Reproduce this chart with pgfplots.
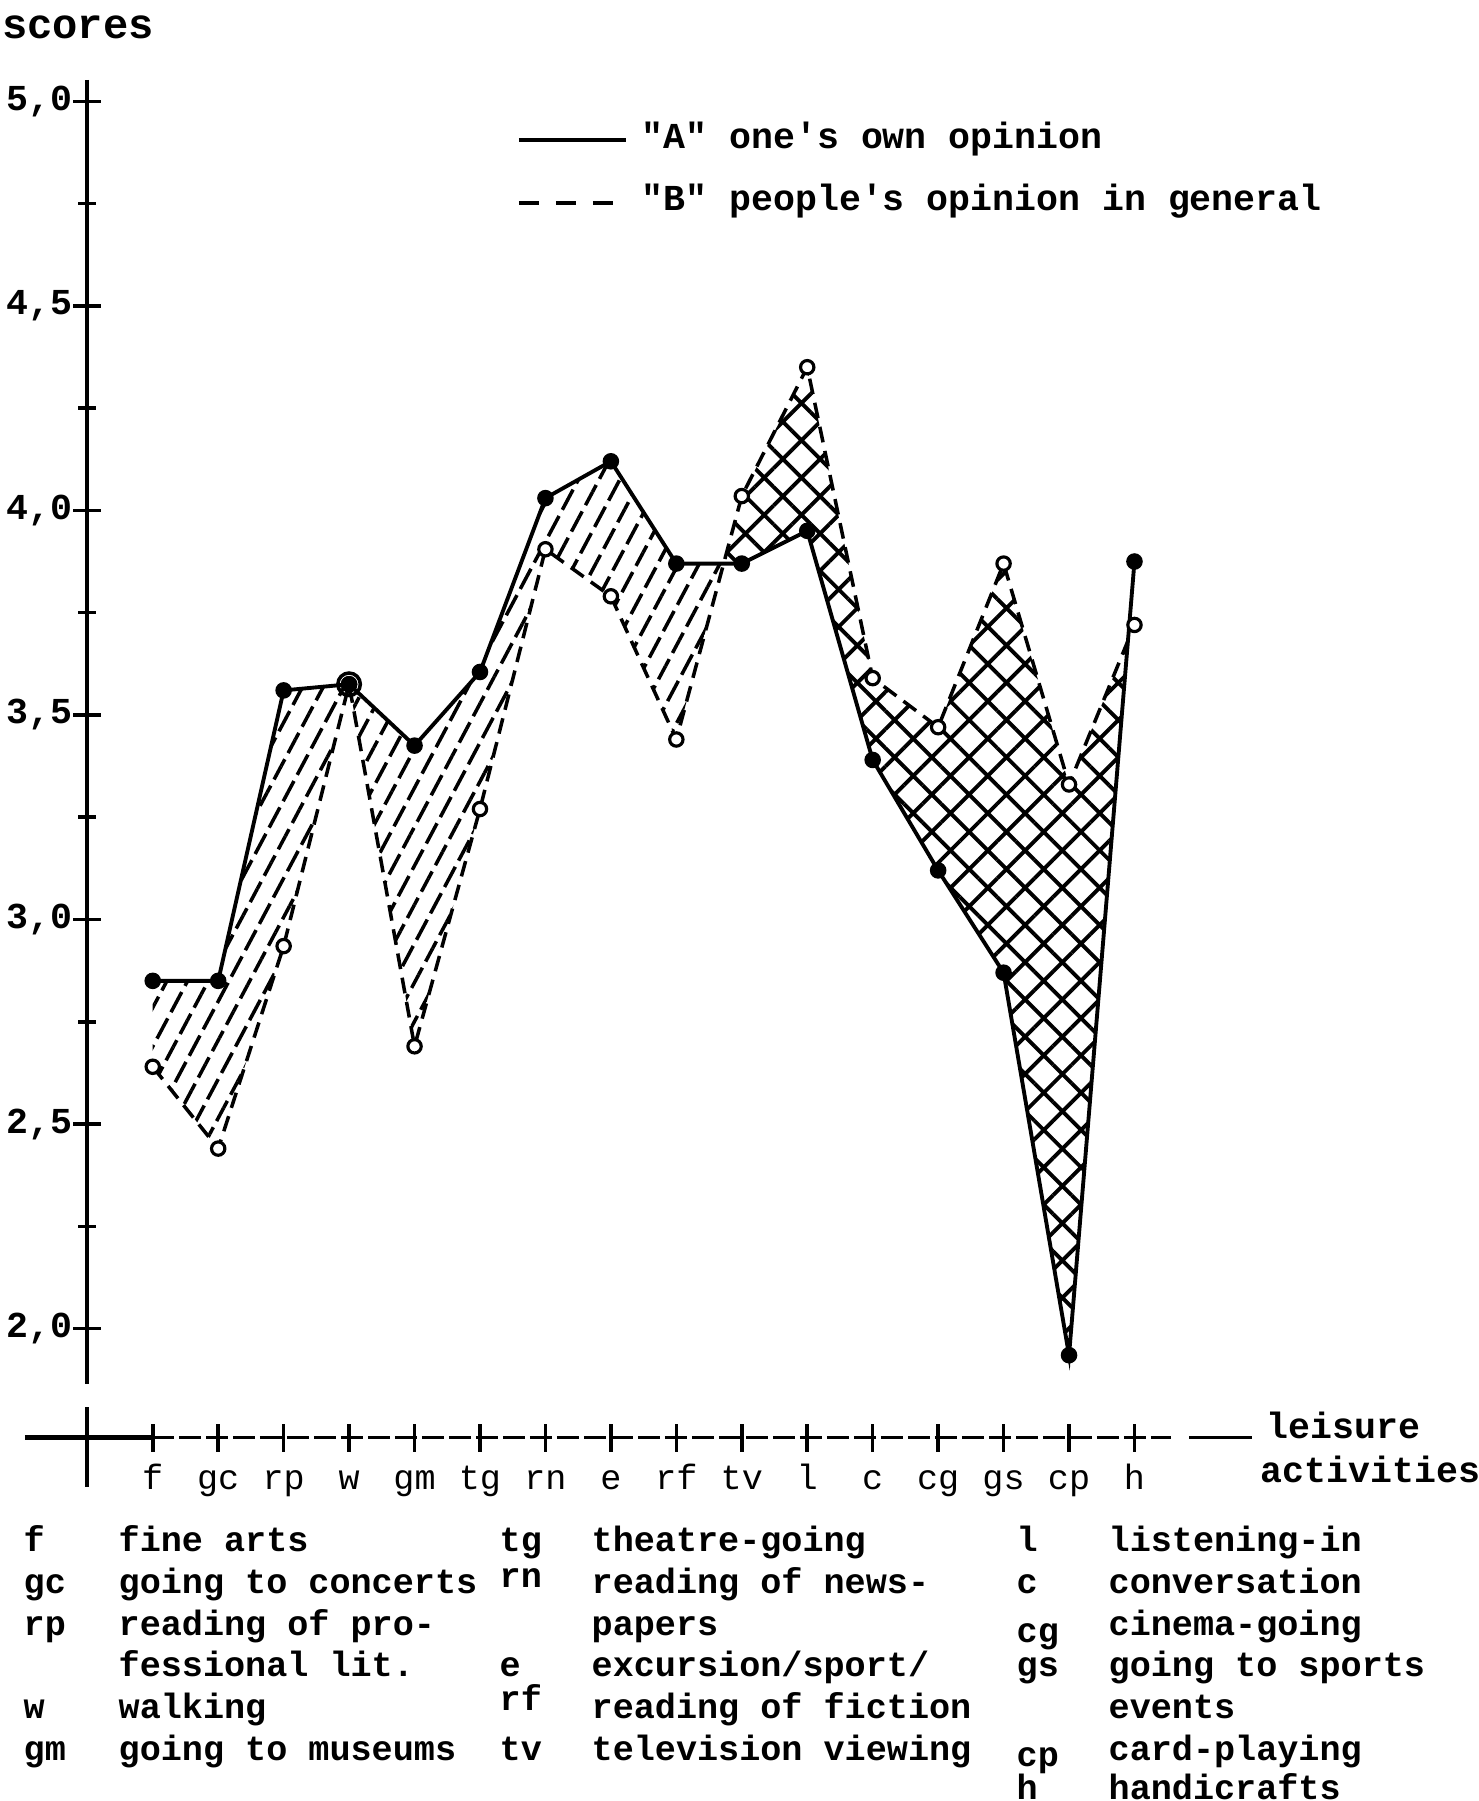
\documentclass[border=0pt]{standalone}
\usepackage{fontspec}
\setmainfont{Liberation Mono}[Ligatures=TeXOff]
\usepackage{pgfplots}
\usepackage{pgfplotstable}
\pgfplotsset{compat=1.18}
\usepgfplotslibrary{fillbetween}
\usetikzlibrary{patterns.meta}

\pgfdeclarepattern{
  name=slashes,
  type=uncolored,
  bottom left={\pgfpoint{-1pt}{-1pt}},
  top right={\pgfpoint{9.5pt}{11.4pt}},
  tile size={\pgfpoint{8.5pt}{10.4pt}},
  tile transformation={\pgftransformrotate{62}},
  code={
    \pgfsetlinewidth{1pt}
    \pgfpathmoveto{\pgfpoint{0pt}{0pt}}
    \pgfpathlineto{\pgfpoint{6.5pt}{0pt}}
    \pgfpathmoveto{\pgfpoint{4.25pt}{5.2pt}}
    \pgfpathlineto{\pgfpoint{8.5pt}{5.2pt}}
    \pgfpathmoveto{\pgfpoint{0pt}{5.2pt}}
    \pgfpathlineto{\pgfpoint{2.25pt}{5.2pt}}
    \pgfusepath{stroke}
  }
}

\pgfplotstableread{
x A B
1 2.85 2.64
2 2.85 2.44
3 3.56 2.935
4 3.575 3.575
5 3.425 2.69
6 3.605 3.27
7 4.03 3.905
8 4.12 3.79
9 3.87 3.44
10 3.87 4.035
11 3.95 4.35
12 3.39 3.59
13 3.12 3.47
14 2.87 3.87
15 1.935 3.33
16 3.875 3.72
}\data

\begin{document}
\begin{tikzpicture}
\begin{axis}[
  x=6.545mm, y=40.91mm,
  xmin=0, xmax=17.9, ymin=1.7333, ymax=5.06,
  enlargelimits=false,
  clip=false,
  axis line style={draw=none},
  tick align=center,
  tick pos=left,
  xtick={1,...,16},
  xticklabels={f,gc,rp,w,gm,tg,rn,e,rf,tv,l,c,cg,gs,cp,h},
  ytick={2,2.5,3,3.5,4,4.5,5},
  yticklabels={{2,0},{2,5},{3,0},{3,5},{4,0},{4,5},{5,0}},
  minor y tick num=1,
  major tick length=2.8mm,
  minor tick length=1.8mm,
  tick style={black, line width=1pt},
  xticklabel style={anchor=base, yshift=-3.8mm, font=\fontsize{10}{12}\selectfont},
  yticklabel style={anchor=east, inner sep=0pt, font=\fontsize{10.4}{12}\selectfont\bfseries},
]
\addplot[draw=none, name path=A] table[x=x,y=A]{\data};
\addplot[draw=none, name path=B] table[x=x,y=B]{\data};
\addplot[pattern=slashes, pattern color=black, draw=none] fill between[of=A and B, soft clip={domain=1:9.723}];
\addplot[pattern={Hatch[angle=45,distance=7.5pt,line width=1.1pt]}, pattern color=black, draw=none] fill between[of=A and B, soft clip={domain=9.723:15.9}];
\addplot[black, line width=1pt, dash pattern=on 4.5pt off 2.5pt, mark=*, mark size=1.9pt, mark options={solid, fill=white, line width=0.9pt}] table[x=x,y=B]{\data};
\addplot[black, line width=1.1pt, mark=*, mark size=1.8pt] table[x=x,y=A]{\data};
\addplot[only marks, mark=o, mark size=3.2pt, line width=1pt] coordinates {(4,3.575)};
\coordinate (O) at (axis cs:0,2);
\end{axis}
\begin{scope}[shift={(O)}]
\begin{scope}[shift={(-8.73mm,132.86mm)}, x=0.1mm, y=-0.1mm, every node/.style={inner sep=0pt}]
  % axis lines
  \draw[line width=1.1pt] (87.3,80) -- (87.3,1384);
  \draw[line width=1.1pt] (87.3,1407) -- (87.3,1487);
  \draw[line width=1.4pt] (25,1437.7) -- (152,1437.7);
  \draw[line width=0.9pt, dash pattern=on 2.2mm off 0.5mm] (152,1437.7) -- (1171,1437.7);
  \draw[line width=0.9pt] (1189,1437.7) -- (1252,1437.7);
  % texts
  \node[anchor=base, font=\fontsize{12}{14}\selectfont\bfseries] at (78,39) {scores};
  \node[anchor=base west, font=\fontsize{10.4}{12}\selectfont\bfseries] at (1266,1438) {leisure};
  \node[anchor=base west, font=\fontsize{10.4}{12}\selectfont\bfseries] at (1260,1482) {activities};
  % legend
  \draw[line width=1.2pt] (519,140) -- (626,140);
  \node[anchor=base west, font=\fontsize{10.4}{12}\selectfont\bfseries] at (641,148) {"A" one's own opinion};
  \draw[line width=1.2pt, dash pattern=on 2mm off 1.7mm] (519,203) -- (626,203);
  \node[anchor=base west, font=\fontsize{10.4}{12}\selectfont\bfseries] at (641,211) {"B" people's opinion in general};
  % key
  \begin{scope}[every node/.style={inner sep=0pt, anchor=base west, font=\fontsize{10}{12}\selectfont\bfseries}]
    \node at (23,1551) {f};   \node at (118,1551) {fine arts};
    \node at (23,1593) {gc};  \node at (118,1593) {going to concerts};
    \node at (23,1635) {rp};  \node at (118,1635) {reading of pro-};
                              \node at (118,1676) {fessional lit.};
    \node at (23,1718) {w};   \node at (118,1718) {walking};
    \node at (23,1760) {gm};  \node at (118,1760) {going to museums};
    \node at (499,1551) {tg}; \node at (591,1551) {theatre-going};
    \node at (499,1587) {rn}; \node at (591,1593) {reading of news-};
                              \node at (591,1635) {papers};
    \node at (499,1676) {e};  \node at (591,1676) {excursion/sport/};
    \node at (499,1710) {rf}; \node at (591,1718) {reading of fiction};
    \node at (499,1760) {tv}; \node at (591,1760) {television viewing};
    \node at (1016,1551) {l};  \node at (1108,1551) {listening-in};
    \node at (1016,1593) {c};  \node at (1108,1593) {conversation};
    \node at (1016,1642) {cg}; \node at (1108,1635) {cinema-going};
    \node at (1016,1676) {gs}; \node at (1108,1676) {going to sports};
                               \node at (1108,1718) {events};
    \node at (1016,1766) {cp}; \node at (1108,1760) {card-playing};
    \node at (1016,1799) {h};  \node at (1108,1799) {handicrafts};
  \end{scope}
  \pgfresetboundingbox
  \path[use as bounding box] (0,0) rectangle (1479,1801);
\end{scope}
\end{scope}
\end{tikzpicture}
\end{document}
